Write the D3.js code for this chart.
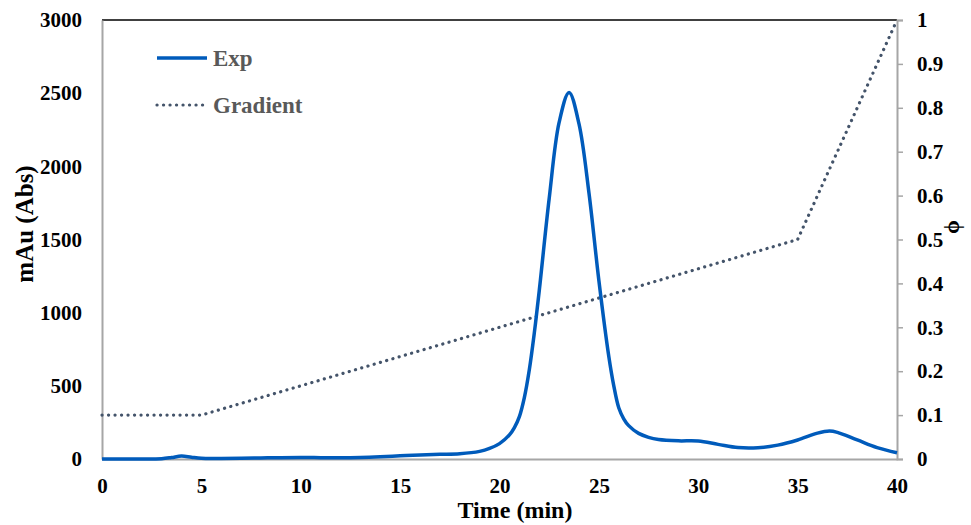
<!DOCTYPE html>
<html>
<head>
<meta charset="utf-8">
<script src="https://cdn.jsdelivr.net/npm/d3@7"></script>
<style>
  body { margin: 0; background: #fff; }
  svg text { font-family: "Liberation Serif", "Times New Roman", serif; font-weight: bold; }
</style>
</head>
<body>
<svg id="chart" width="971" height="525"></svg>
<script>
// Chromatogram trace: absorbance (mAu) vs time (min)
const expTime = [0, 1, 2, 3, 3.5, 4, 4.5, 5, 6, 7, 8, 9, 10, 11, 12, 13, 14, 15, 16, 17, 18, 19, 19.5, 20, 20.5, 20.75, 21, 21.25, 21.5, 21.75, 22, 22.5, 23, 23.5, 24, 24.5, 25, 25.5, 25.75, 26, 26.25, 26.5, 27, 27.5, 28, 29, 30, 31, 32, 33, 34, 35, 36, 36.6, 37, 38, 39, 40];
const expValue = [0, 0, 0, 2, 10, 20, 12, 5, 4, 5, 7, 9, 10, 9, 8, 10, 15, 22, 28, 32, 36, 52, 72, 105, 165, 215, 290, 420, 610, 860, 1150, 1780, 2300, 2505, 2290, 1820, 1220, 700, 500, 350, 275, 228, 175, 148, 133, 124, 123, 100, 78, 77, 95, 130, 177, 191, 182, 130, 78, 43];

// Solvent gradient (volume fraction phi) vs time (min)
const gradTime = [0, 5, 35, 40];
const gradValue = [0.1, 0.1, 0.5, 1.0];

const xTicks = [0, 5, 10, 15, 20, 25, 30, 35, 40];
const yLeftTicks = [0, 500, 1000, 1500, 2000, 2500, 3000];
const yRightTicks = [0, 0.1, 0.2, 0.3, 0.4, 0.5, 0.6, 0.7, 0.8, 0.9, 1];

const plotLeft = 102, plotRight = 897, plotTop = 20, plotBottom = 459;
const svg = d3.select("#chart");

const x = d3.scaleLinear().domain([0, 40]).range([plotLeft, plotRight]);
const yL = d3.scaleLinear().domain([0, 3000]).range([plotBottom, plotTop]);
const yR = d3.scaleLinear().domain([0, 1]).range([plotBottom, plotTop]);

// top frame line
svg.append("line").attr("x1", plotLeft).attr("x2", plotRight).attr("y1", plotTop).attr("y2", plotTop)
  .attr("stroke", "#000").attr("stroke-width", 1.5);

// left axis
const gL = svg.append("g").attr("transform", `translate(${plotLeft},0)`)
  .call(d3.axisLeft(yL).tickValues(yLeftTicks).tickSize(0).tickPadding(20).tickFormat(d3.format("d")));
// right axis
const gR = svg.append("g").attr("transform", `translate(${plotRight},0)`)
  .call(d3.axisRight(yR).tickValues(yRightTicks).tickSize(6).tickPadding(14).tickFormat(d => d3.format("")(d)));
// bottom axis
const gB = svg.append("g").attr("transform", `translate(0,${plotBottom})`)
  .call(d3.axisBottom(x).tickValues(xTicks).tickSize(0).tickPadding(19).tickFormat(d3.format("d")));

[gL, gR, gB].forEach(g => {
  g.select(".domain").attr("stroke", "#a6a6a6").attr("stroke-width", 2);
  g.selectAll(".tick line").attr("stroke", "#a6a6a6").attr("stroke-width", 1.5);
  g.selectAll(".tick text").attr("fill", "#000").style("font-size", "21px")
    .style("font-family", "'Liberation Serif', serif").style("font-weight", "bold");
});
gB.selectAll(".tick text").attr("dy", "0.71em");

// gradient line (right axis)
const gradData = gradTime.map((t, i) => [t, gradValue[i]]);
svg.append("path").datum(gradData)
  .attr("fill", "none").attr("stroke", "#44546a").attr("stroke-width", 3.2)
  .attr("stroke-dasharray", "0.1 6.4").attr("stroke-linecap", "round")
  .attr("d", d3.line().x(d => x(d[0])).y(d => yR(d[1])));

// absorbance trace (left axis)
const expData = expTime.map((t, i) => [t, expValue[i]]);
svg.append("path").datum(expData)
  .attr("fill", "none").attr("stroke", "#005bbb").attr("stroke-width", 3.5)
  .attr("stroke-linejoin", "round")
  .attr("d", d3.line().curve(d3.curveCatmullRom.alpha(0.5)).x(d => x(d[0])).y(d => yL(d[1])));

// axis titles
svg.append("text").attr("x", 515).attr("y", 518)
  .attr("text-anchor", "middle").style("font-size", "24px").text("Time (min)");
svg.append("text").attr("transform", "translate(33,224) rotate(-90)")
  .attr("text-anchor", "middle").style("font-size", "25px").text("mAu (Abs)");
svg.append("text").attr("transform", "translate(949,227) rotate(90)")
  .attr("text-anchor", "middle").style("font-size", "22px").text("ϕ");

// legend
const legend = svg.append("g");
legend.append("line").attr("x1", 157).attr("x2", 207).attr("y1", 58).attr("y2", 58)
  .attr("stroke", "#005bbb").attr("stroke-width", 3.5);
legend.append("text").attr("x", 213).attr("y", 66).attr("fill", "#595959")
  .style("font-size", "23px").text("Exp");
legend.append("line").attr("x1", 157).attr("x2", 207).attr("y1", 105).attr("y2", 105)
  .attr("stroke", "#44546a").attr("stroke-width", 3.2)
  .attr("stroke-dasharray", "0.1 6.4").attr("stroke-linecap", "round");
legend.append("text").attr("x", 213).attr("y", 113).attr("fill", "#595959")
  .style("font-size", "23px").text("Gradient");
</script>
</body>
</html>
